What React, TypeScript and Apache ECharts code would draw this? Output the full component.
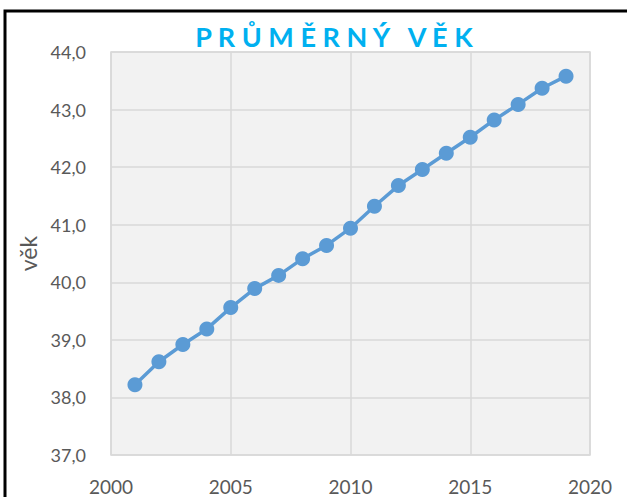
import React, { useEffect, useRef } from "react";
import * as echarts from "echarts";

const years = [2001, 2002, 2003, 2004, 2005, 2006, 2007, 2008, 2009, 2010, 2011, 2012, 2013, 2014, 2015, 2016, 2017, 2018, 2019];
const ages = [38.22, 38.62, 38.92, 39.19, 39.56, 39.89, 40.12, 40.41, 40.64, 40.94, 41.32, 41.68, 41.96, 42.24, 42.52, 42.82, 43.09, 43.37, 43.58];
const titleText = "P R Ů M Ě R N Ý   V Ě K";
const yName = "věk";

export default function App() {
  const ref = useRef<HTMLDivElement>(null);
  useEffect(() => {
    if (!ref.current) return;
    const chart = echarts.init(ref.current, null, { renderer: "svg" });
    const font = "Lato, 'Open Sans', sans-serif";
    chart.setOption({
      animation: false,
      backgroundColor: "#ffffff",
      textStyle: { fontFamily: font },
      grid: {
        left: 111,
        right: 37,
        top: 52,
        bottom: 42,
        show: true,
        backgroundColor: "#f2f2f2",
        borderColor: "#d9d9d9",
        borderWidth: 1.5,
      },
      graphic: [
        {
          type: "rect",
          shape: { x: 5, y: 11, width: 800, height: 700 },
          style: { fill: "none", stroke: "#000000", lineWidth: 3 },
          silent: true,
        },
        {
          type: "text",
          x: 334,
          y: 36,
          style: {
            text: titleText,
            fill: "#00b0f0",
            font: "bold 27px Lato, 'Open Sans', sans-serif",
            textAlign: "center",
            textVerticalAlign: "middle",
          },
        },
      ],
      xAxis: {
        type: "value",
        min: 2000,
        max: 2020,
        interval: 5,
        axisLine: { show: false },
        axisTick: { show: false },
        splitLine: { show: true, lineStyle: { color: "#d9d9d9", width: 1.5 } },
        axisLabel: {
          color: "#595959",
          fontSize: 19,
          margin: 22,
          fontFamily: font,
          formatter: (v: number) => String(v),
        },
      },
      yAxis: {
        type: "value",
        min: 37,
        max: 44,
        interval: 1,
        name: yName,
        nameLocation: "middle",
        nameGap: 72,
        nameTextStyle: { color: "#595959", fontSize: 23, fontFamily: font },
        axisLine: { show: false },
        axisTick: { show: false },
        splitLine: { show: true, lineStyle: { color: "#d9d9d9", width: 1.5 } },
        axisLabel: {
          color: "#595959",
          fontSize: 18,
          margin: 25,
          fontFamily: font,
          formatter: (v: number) => v.toFixed(1).replace(".", ","),
        },
      },
      series: [
        {
          type: "line",
          data: years.map((y, i) => [y, ages[i]]),
          symbol: "circle",
          symbolSize: 15,
          lineStyle: { color: "#5b9bd5", width: 3.5 },
          itemStyle: { color: "#5b9bd5" },
        },
      ],
    });
    return () => chart.dispose();
  }, []);
  return <div ref={ref} style={{ position: "fixed", left: 0, top: 0, width: 627, height: 497 }} />;
}
